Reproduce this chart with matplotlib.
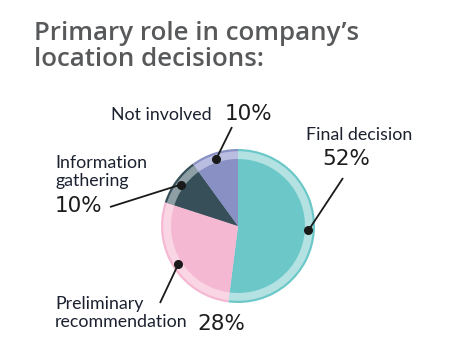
import numpy as np
import matplotlib.pyplot as plt

labels = ["Final decision", "Preliminary\nrecommendation", "Information\ngathering", "Not involved"]
values = [52, 28, 10, 10]
colors = ["#6cc8c8", "#f5b8d2", "#364f59", "#8890c4"]
ring_colors = ["#b4e2e2", "#fad5e4", "#8d9fa5", "#b9bde0"]

W, H = 450, 361
fig = plt.figure(figsize=(W / 100, H / 100), dpi=100)
ax = fig.add_axes([0, 0, 1, 1])

cx, cy = 238, H - 226
R = 77

# outer border, light ring, inner solid pie
ax.pie(values, colors=colors, startangle=90, counterclock=False,
       center=(cx, cy), radius=R, frame=True)
ax.pie(values, colors=ring_colors, startangle=90, counterclock=False,
       center=(cx, cy), radius=R - 2.2, frame=True)
ax.pie(values, colors=colors, startangle=90, counterclock=False,
       center=(cx, cy), radius=R - 10, frame=True)
ax.set_xlim(0, W)
ax.set_ylim(0, H)
ax.set_aspect("equal")
ax.axis("off")

# title
ax.text(34, H - 21, "Primary role in company’s\nlocation decisions:", fontsize=18.6,
        fontweight="semibold", color="#58595b", family="Open Sans", va="top", ha="left",
        linespacing=1.05)

# leader lines and labels
tot = sum(values)
angles = []
a = 90
for v in values:
    a2 = a - v / tot * 360
    angles.append((a + a2) / 2)
    a = a2

ends = [(343, H - 178), (160, H - 303), (110, H - 207), (232, H - 127)]
for ang, (ex, ey) in zip(angles, ends):
    r = 70.5
    dx = cx + r * np.cos(np.radians(ang))
    dy = cy + r * np.sin(np.radians(ang))
    ax.plot([dx, ex], [dy, ey], color="#1a1a1a", lw=1.3, solid_capstyle="butt")
    ax.plot(dx, dy, "o", color="#1a1a1a", ms=5.5)

lab_kw = dict(fontsize=12.8, color="#1c2130", family="Lato")
pct_kw = dict(fontsize=15.5, color="#1c1c1c", family="DejaVu Sans")

ax.text(359, H - 135, labels[0], ha="center", va="center", **lab_kw)
ax.text(346, H - 159, f"{values[0]}%", ha="center", va="center", **pct_kw)

ax.text(55, H - 313, labels[1], ha="left", va="center", linespacing=1.1, **lab_kw)
ax.text(197, H - 324, f"{values[1]}%", ha="left", va="center", **pct_kw)

ax.text(55, H - 172, labels[2], ha="left", va="center", linespacing=1.1, **lab_kw)
ax.text(55, H - 206, f"{values[2]}%", ha="left", va="center", **pct_kw)

ax.text(212, H - 115, labels[3], ha="right", va="center", **lab_kw)
ax.text(225, H - 114, f"{values[3]}%", ha="left", va="center", **pct_kw)

fig.savefig("out.png", dpi=100)
